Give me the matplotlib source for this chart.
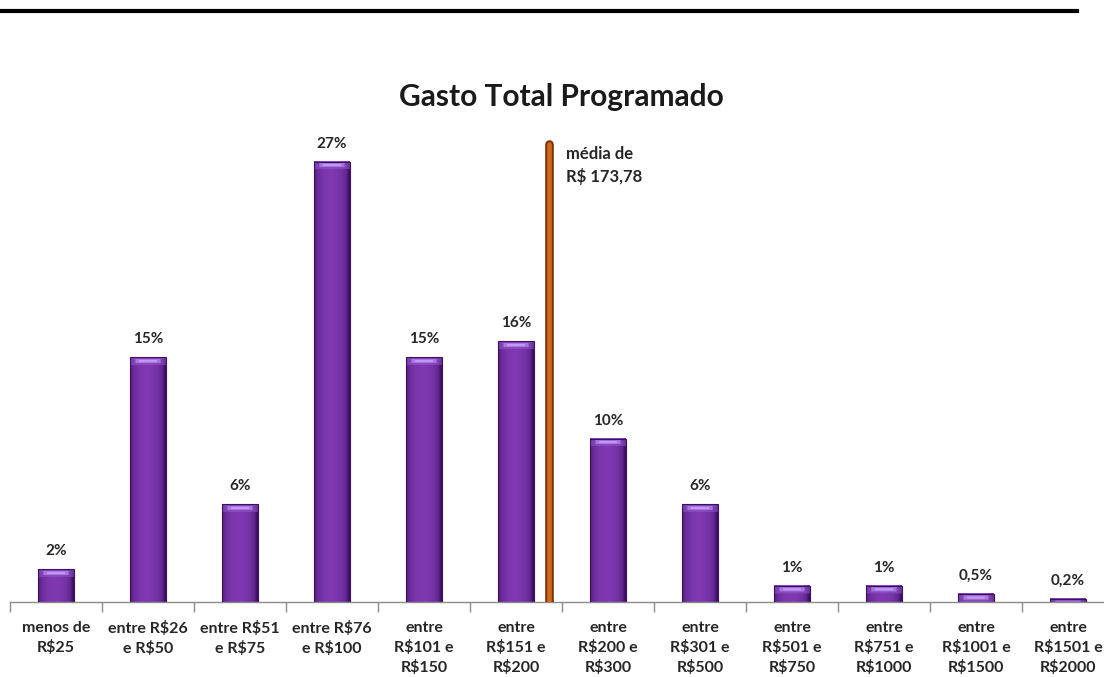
import numpy as np
import matplotlib
matplotlib.use("Agg")
import matplotlib.pyplot as plt
from matplotlib.lines import Line2D

# Distribution of planned total spending by price range
categories = [
    "menos de\nR$25", "entre R$26\ne R$50", "entre R$51\ne R$75", "entre R$76\ne R$100",
    "entre\nR$101 e\nR$150", "entre\nR$151 e\nR$200", "entre\nR$200 e\nR$300",
    "entre\nR$301 e\nR$500", "entre\nR$501 e\nR$750", "entre\nR$751 e\nR$1000",
    "entre\nR$1001 e\nR$1500", "entre\nR$1501 e\nR$2000",
]
shares = [2, 15, 6, 27, 15, 16, 10, 6, 1, 1, 0.5, 0.2]
share_labels = ["2%", "15%", "6%", "27%", "15%", "16%", "10%", "6%", "1%", "1%", "0,5%", "0,2%"]
mean_label = "média de\nR$ 173,78"

plt.rcParams["font.family"] = ["Lato", "DejaVu Sans"]

W, H = 1104, 677
fig = plt.figure(figsize=(W / 100, H / 100), dpi=100)

px_per_unit = 16.3
ymax = 28.8
ax = fig.add_axes([10 / W, 75 / H, 1104 / W, ymax * px_per_unit / H])
ax.set_xlim(-0.5, len(categories) - 0.5)
ax.set_ylim(0, ymax)

# spines and ticks
for s in ("top", "right", "left"):
    ax.spines[s].set_visible(False)
ax.spines["bottom"].set_color("#8c8c8c")
ax.spines["bottom"].set_linewidth(1.0)
ax.set_yticks([])
ax.set_xticks(range(len(categories)))
ax.set_xticklabels(categories, fontsize=11.5, fontweight="bold", color="#262626",
                   linespacing=1.4)
ax.tick_params(axis="x", which="major", length=0, pad=14)
ax.set_xticks(np.arange(-0.5, len(categories), 1.0), minor=True)
ax.tick_params(axis="x", which="minor", length=7, width=1.0, color="#8c8c8c",
               direction="out")

# bars with a bevelled purple shading
bar_w = 0.39
bars = ax.bar(range(len(categories)), shares, width=bar_w, color="#7030a0",
              edgecolor="#3a1060", linewidth=0.8, zorder=2)

nx = 40
t = np.linspace(0, 1, nx)
edge = np.array([0.25, 0.07, 0.40])
mid = np.array([0.50, 0.22, 0.70])
prof = np.sin(np.pi * np.clip(t * 1.05, 0, 1)) ** 0.35
row = edge[None, :] * (1 - prof[:, None]) + mid[None, :] * prof[:, None]
band_px = 8
for rect in bars:
    h = rect.get_height()
    ny = max(int(round(h * px_per_unit)), 2)
    img = np.repeat(row[None, :, :], ny, axis=0).copy()
    nb = min(band_px, ny)
    cap = np.array([0.58, 0.36, 0.80])
    for r in range(nb):
        img[r, :, :] = img[r, :, :] * 0.5 + cap * 0.5
        if 2 <= r <= 5:
            img[r, nx // 6:nx - nx // 6, :] = np.array([0.66, 0.46, 0.88])
        if 3 <= r <= 4:
            img[r, nx // 4:nx - nx // 4, :] = np.array([0.76, 0.60, 0.95])
    x0 = rect.get_x()
    ax.imshow(img, extent=(x0, x0 + rect.get_width(), 0, h), aspect="auto",
              origin="upper", zorder=2.5, interpolation="bilinear",
              clip_path=rect, clip_on=True)
    rect.set_facecolor("none")
    rect.set_zorder(3)

ax.set_xlim(-0.5, len(categories) - 0.5)
ax.set_ylim(0, ymax)

for i, (v, lab) in enumerate(zip(shares, share_labels)):
    ax.annotate(lab, (i, v), xytext=(0, 8), textcoords="offset points",
                ha="center", va="bottom", fontsize=11, fontweight="bold",
                color="#262626")

# average marker
mean_x = 5.36
mean_top = 28.1
ax.plot([mean_x, mean_x], [0, mean_top], color="#7a3208", lw=6.2,
        solid_capstyle="round", zorder=4)
ax.plot([mean_x, mean_x], [0, mean_top], color="#d2661b", lw=3.4,
        solid_capstyle="round", zorder=4.5)
ax.text(mean_x + 0.18, mean_top - 0.15, mean_label, ha="left", va="top",
        fontsize=12, fontweight="bold", color="#262626", linespacing=1.4)

# title and header rule
fig.text(561 / W, 1 - 97 / H, "Gasto Total Programado", ha="center", va="center",
         fontsize=21.5, fontweight="bold", color="#1a1a1a")
fig.add_artist(Line2D([2 / W, 1077 / W], [1 - 10.5 / H, 1 - 10.5 / H],
                      color="black", lw=3.0, transform=fig.transFigure))

fig.savefig("out.png", dpi=100)
